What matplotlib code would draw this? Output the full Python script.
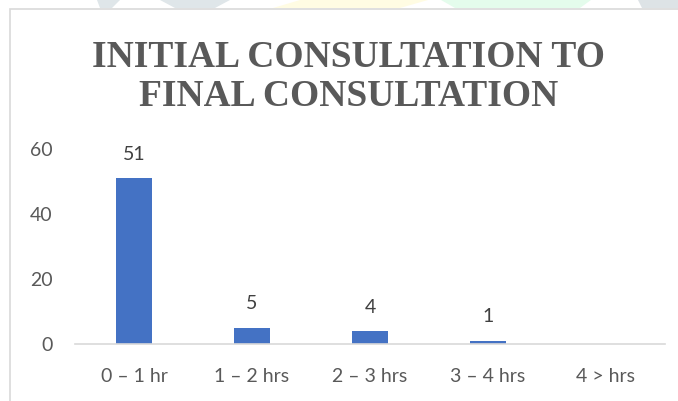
import matplotlib
matplotlib.use("Agg")
import matplotlib.pyplot as plt
from matplotlib.patches import Rectangle, Polygon

categories = ["0 – 1 hr", "1 – 2 hrs", "2 – 3 hrs", "3 – 4 hrs", "4 > hrs"]
values = [51, 5, 4, 1, 0]
y_ticks = [0, 20, 40, 60]
title = "INITIAL CONSULTATION TO\nFINAL CONSULTATION"

W, H = 678, 401
fig = plt.figure(figsize=(W / 100, H / 100), dpi=100)
fig.patch.set_facecolor("white")

def fx(px):
    return px / W

def fy(py):
    return 1 - py / H

# faint background watermark shapes at the very top
wm = [
    ([(97, 0), (120, 0), (112, 8), (100, 8)], "#DFE6E9"),
    ([(160, 0), (230, 0), (215, 8), (175, 8)], "#DFE6E9"),
    ([(273, 8), (300, 0), (428, 0), (400, 8)], "#FFFCE3"),
    ([(441, 0), (591, 0), (580, 8), (455, 8)], "#E4FCEC"),
    ([(638, 0), (678, 0), (678, 8), (642, 8)], "#DDE3E6"),
]
for pts, c in wm:
    fig.patches.append(Polygon([(fx(x), fy(y)) for x, y in pts], closed=True,
                               transform=fig.transFigure, facecolor=c,
                               edgecolor="none", zorder=0))

# chart border (extends beyond right/bottom edges)
fig.patches.append(Rectangle((fx(10), fy(420)), fx(700), fy(9) - fy(420),
                             transform=fig.transFigure, facecolor="none",
                             edgecolor="#D9D9D9", linewidth=1.2, zorder=1))

ax = fig.add_axes([fx(75), fy(344), fx(665) - fx(75), fy(149) - fy(344)])
ax.set_facecolor("none")
x = range(len(categories))
bars = ax.bar(x, values, width=0.31, color="#4472C4", zorder=2)
ax.bar_label(bars, labels=[str(v) if v else "" for v in values], padding=11,
             fontsize=14, color="#404040", family="Lato")

ax.set_xlim(-0.5, len(categories) - 0.5)
ax.set_ylim(0, 60)
ax.set_yticks(y_ticks)
ax.set_xticks(list(x))
ax.set_xticklabels(categories)
for s in ["top", "right", "left"]:
    ax.spines[s].set_visible(False)
ax.spines["bottom"].set_color("#D9D9D9")
ax.spines["bottom"].set_linewidth(1.2)
ax.tick_params(axis="both", length=0, labelsize=14, labelcolor="#595959")
ax.tick_params(axis="y", pad=16)
ax.tick_params(axis="x", pad=17)
for lbl in ax.get_xticklabels() + ax.get_yticklabels():
    lbl.set_family("Lato")

fig.text(fx(349), fy(77), title, ha="center", va="center", fontsize=27,
         fontweight="bold", family="Liberation Serif", color="#595959",
         linespacing=1.18)

fig.savefig("out.png", dpi=100)
